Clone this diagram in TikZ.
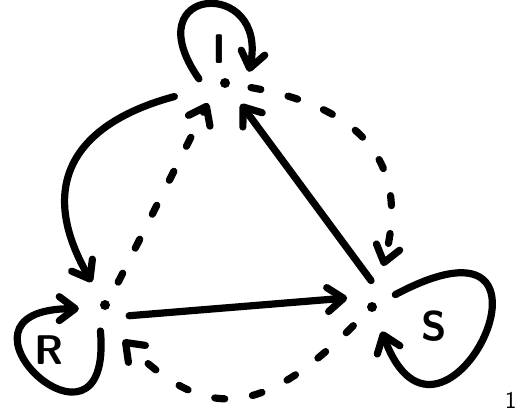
\documentclass[tikz,border=0pt]{standalone}
\usepackage{tikz}
\usetikzlibrary{arrows.meta}

\begin{document}
\begin{tikzpicture}[
  x=0.5pt, y=0.5pt,
  state/.style={circle, minimum size=26pt, inner sep=0pt},
  lbl/.style={font=\sffamily\bfseries\huge, inner sep=0pt},
  arr/.style={line width=3.6pt, line cap=round, -{Straight Barb[length=8pt,width=12pt,round]}},
  darr/.style={arr, dash pattern=on 5pt off 14pt}
]
  \useasboundingbox (0,0) rectangle (518,412);
  \node[state] (I) at (225,329) {};
  \node[state] (R) at (105,107) {};
  \node[state] (S) at (372,105) {};
  \foreach \n in {I,R,S} \fill (\n) circle (5);

  \node[lbl] (tI) at (219,363) {I};
  \node[lbl] (tR) at (49,62) {R};
  \node[lbl] (tS) at (434,86) {S};
  \node[font=\sffamily\large, anchor=south east, inner sep=0pt] (num) at (517,3) {1};

  % self loops
  \draw[arr] (I.171) .. controls +(125:115) and +(78:97) .. (I.25);
  \draw[arr] (R.-100) .. controls +(-85:150) and +(180:150) .. (R.188);
  \draw[arr] (S.28) .. controls +(28:220) and +(-70:175) .. (S.-68);

  % solid
  \draw[arr] (R.-24) -- (S.160);
  \draw[arr] (S.92) -- (I.-53);
  \draw[arr, shorten <=13pt] (I) to[out=195, in=120, looseness=1.4] (R);

  % dashed
  \draw[darr] (R.60) -- (I.-130);
  \draw[darr, shorten >=8pt] (I) to[out=-10, in=75, looseness=1.3] (S.75);
  \draw[darr, shorten >=7pt] (S.225) to[out=225, in=-45, looseness=1.38] (R.-72);
\end{tikzpicture}
\end{document}
